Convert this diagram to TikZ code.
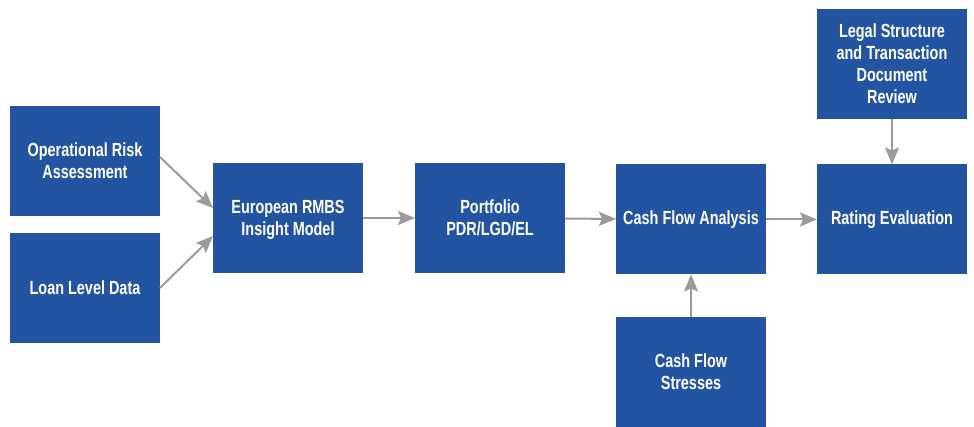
\documentclass[tikz,border=0pt]{standalone}
\usepackage{fontspec}
\setmainfont{Liberation Sans}[FakeStretch=0.76]
\usetikzlibrary{arrows.meta}
\definecolor{boxblue}{RGB}{35,84,162}
\definecolor{arrowgray}{RGB}{155,155,155}

\begin{document}
\begin{tikzpicture}[x=1pt,y=-1pt,
	box/.style={fill=boxblue, text=white, minimum width=150pt, minimum height=110pt, inner sep=0pt, outer sep=0pt, align=center, font=\fontsize{19}{22}\selectfont\bfseries},
	low/.style={text depth=-8pt},
	flow/.style={draw=arrowgray, line width=2pt, -{Stealth[length=17pt,width=14pt,inset=3pt]}}]

	\useasboundingbox (0,0) rectangle (974,427);

	\node [box, low] (ops) at (85,161) {Operational Risk\\Assessment};
	\node [box] (loan) at (85,288) {Loan Level Data};
	\node [box, low] (model) at (288,218) {European RMBS\\Insight Model};
	\node [box, low] (pdr) at (490,218) {Portfolio\\PDR/LGD/EL};
	\node [box] (cfa) at (691,219.5) {Cash Flow Analysis};
	\node [box, low] (stress) at (691,372) {Cash Flow\\Stresses};
	\node [box] (legal) at (892,64) {Legal Structure\\and Transaction\\Document\\Review};
	\node [box] (rating) at (892,219.5) {Rating Evaluation};

	\draw [flow] ([yshift=4pt]ops.east) -- ([yshift=10pt]model.west);
	\draw [flow] (loan.east) -- ([yshift=-18pt]model.west);
	\draw [flow] (model) -- (pdr);
	\draw [flow] (pdr) -- (cfa);
	\draw [flow] (cfa) -- (rating);
	\draw [flow] (stress) -- (cfa);
	\draw [flow] (legal) -- (rating);
\end{tikzpicture}
\end{document}
